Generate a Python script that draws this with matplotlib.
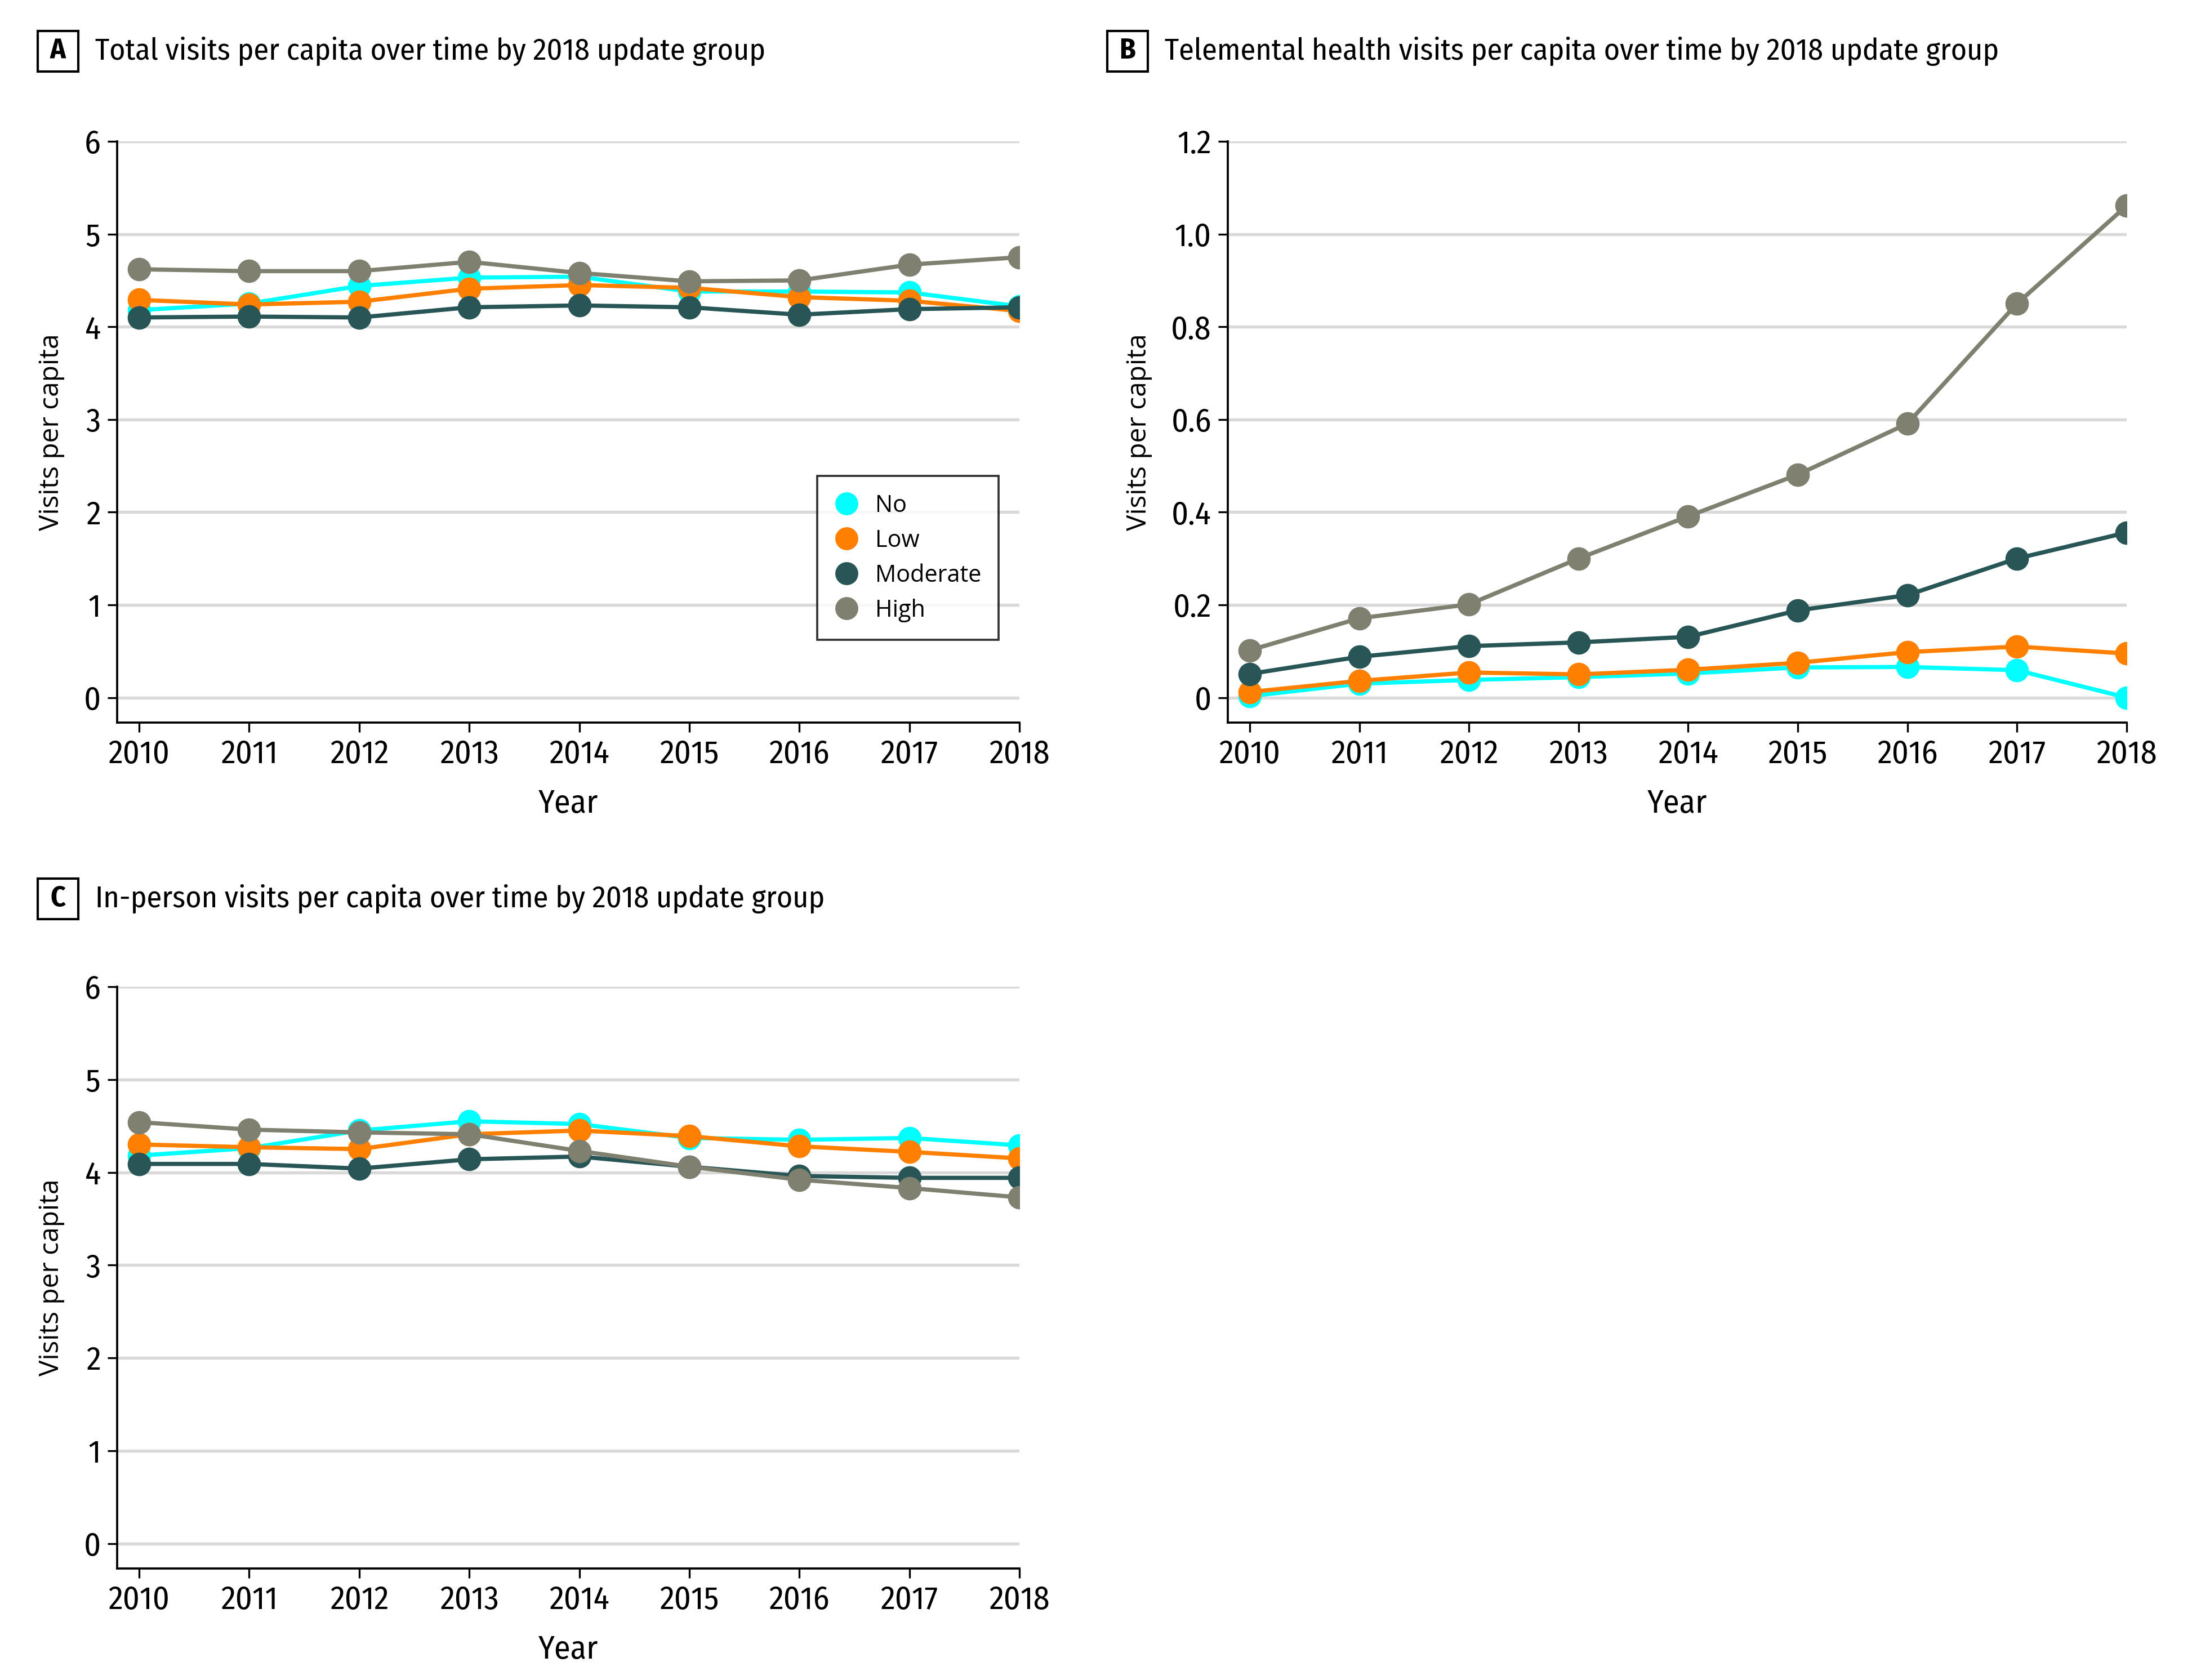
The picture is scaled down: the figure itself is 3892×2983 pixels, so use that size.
import matplotlib
matplotlib.use("Agg")
import matplotlib.pyplot as plt
from matplotlib import font_manager as fm
from matplotlib.lines import Line2D
from matplotlib.patches import Rectangle

years = [2010, 2011, 2012, 2013, 2014, 2015, 2016, 2017, 2018]
groups = ["No", "Low", "Moderate", "High"]
colors = ["#00FFFF", "#FF8000", "#285555", "#808070"]

total_no = [4.18, 4.25, 4.44, 4.53, 4.54, 4.38, 4.38, 4.37, 4.22]
total_low = [4.29, 4.24, 4.27, 4.41, 4.45, 4.42, 4.32, 4.28, 4.17]
total_mod = [4.10, 4.11, 4.10, 4.21, 4.23, 4.21, 4.13, 4.19, 4.21]
total_high = [4.62, 4.60, 4.60, 4.70, 4.58, 4.49, 4.50, 4.67, 4.75]

tele_no = [0.003, 0.030, 0.038, 0.044, 0.052, 0.065, 0.066, 0.059, 0.0]
tele_low = [0.012, 0.036, 0.054, 0.050, 0.060, 0.075, 0.098, 0.110, 0.095]
tele_mod = [0.051, 0.088, 0.111, 0.119, 0.131, 0.188, 0.221, 0.300, 0.356]
tele_high = [0.102, 0.171, 0.201, 0.300, 0.391, 0.481, 0.591, 0.850, 1.061]

inp_no = [4.18, 4.26, 4.45, 4.55, 4.52, 4.37, 4.35, 4.37, 4.29]
inp_low = [4.30, 4.27, 4.25, 4.41, 4.45, 4.39, 4.28, 4.22, 4.15]
inp_mod = [4.09, 4.09, 4.04, 4.14, 4.17, 4.06, 3.96, 3.94, 3.94]
inp_high = [4.54, 4.46, 4.43, 4.41, 4.23, 4.06, 3.92, 3.83, 3.73]

names = {f.name for f in fm.fontManager.ttflist}
pref = ["Fira Sans Condensed", "Roboto Condensed", "PT Sans Narrow", "Archivo Narrow",
        "Open Sans Condensed", "IBM Plex Sans Condensed", "Encode Sans Condensed",
        "Barlow Semi Condensed", "Liberation Sans Narrow", "Source Sans 3", "Lato"]
cond_name = next((n for n in pref if n in names), "DejaVu Sans")
wide_name = "Open Sans" if "Open Sans" in names else "DejaVu Sans"
COND = dict(family=[cond_name, "DejaVu Sans"])
WIDE = dict(family=[wide_name, "DejaVu Sans"])

W, H = 3892, 2983
DPI = 300
fig = plt.figure(figsize=(W / DPI, H / DPI), dpi=DPI)
renderer = fig.canvas.get_renderer()

def fit_size(text, target_px, base=12, **kw):
    t = fig.text(0, 0, text, fontsize=base, **kw)
    w = t.get_window_extent(renderer).width
    t.remove()
    return base * target_px / w

TICK = fit_size("2010", 109, **COND)
TITLE = fit_size("Total visits per capita over time by 2018 update group", 1191, **COND)
YLAB = fit_size("Visits per capita", 350, **WIDE)
LEG = fit_size("Moderate", 189, **WIDE)

def add_axes(l, t, r, b):
    return fig.add_axes([l / W, 1 - b / H, (r - l) / W, (b - t) / H])

def style(ax, ymax, yticks, yticklabels):
    ax.set_xlim(2009.8, 2018)
    ax.set_ylim(-0.045 * ymax, ymax)
    ax.spines["top"].set_visible(False)
    ax.spines["right"].set_visible(False)
    for s in ("left", "bottom"):
        ax.spines[s].set_linewidth(0.9)
    ax.set_yticks(yticks)
    ax.set_yticklabels(yticklabels, fontsize=TICK, **COND)
    ax.set_xticks(years)
    ax.set_xticklabels([str(y) for y in years], fontsize=TICK, **COND)
    ax.tick_params(length=4, width=0.8, pad=3)
    for y in yticks:
        ax.axhline(y, color="#d9d9d9", lw=1.3, zorder=0)
    ax.set_xlabel("Year", fontsize=TICK, labelpad=8, **COND)
    ax.set_ylabel("Visits per capita", fontsize=YLAB, labelpad=8, **WIDE)

def plot_series(ax, series):
    for vals, c, g in zip(series, colors, groups):
        ax.plot(years, vals, color=c, lw=1.8, marker="o", ms=9, label=g, zorder=3)

axA = add_axes(208, 251, 1810, 1283)
axB = add_axes(2180, 251, 3776, 1283)
axC = add_axes(208, 1752, 1810, 2785)

yt6 = [0, 1, 2, 3, 4, 5, 6]
style(axA, 6, yt6, [str(v) for v in yt6])
plot_series(axA, [total_no, total_low, total_mod, total_high])

ytB = [0, 0.2, 0.4, 0.6, 0.8, 1.0, 1.2]
style(axB, 1.2, ytB, ["0", "0.2", "0.4", "0.6", "0.8", "1.0", "1.2"])
plot_series(axB, [tele_no, tele_low, tele_mod, tele_high])

style(axC, 6, yt6, [str(v) for v in yt6])
plot_series(axC, [inp_no, inp_low, inp_mod, inp_high])

# legend row height measurement
fs_px = LEG * DPI / 72
t = fig.text(0, 0, "High", fontsize=LEG, **WIDE)
row_h = t.get_window_extent(renderer).height
t.remove()
pitch = 62.0
handles = [Line2D([], [], ls="none", marker="o", ms=8.8, color=c) for c in colors]
leg = axA.legend(handles, groups, loc="upper left", bbox_to_anchor=(0.776, 0.424),
                 borderaxespad=0, frameon=True, fancybox=False, edgecolor="black",
                 prop=dict(size=LEG, **WIDE), handletextpad=0.72,
                 labelspacing=(pitch - row_h) / fs_px,
                 borderpad=0.75, handlelength=1.0)
leg.get_frame().set_linewidth(0.9)

def panel_label(cx, cy, letter, title):
    s = 72
    fig.patches.append(Rectangle(((cx - s / 2) / W, 1 - (cy + s / 2) / H), s / W, s / H,
                                 transform=fig.transFigure, fc="white", ec="black", lw=1.0))
    fig.text(cx / W, 1 - cy / H, letter, fontsize=TITLE * 0.95, fontweight="bold",
             ha="center", va="center", **COND)
    fig.text((cx + 66) / W, 1 - cy / H, title, fontsize=TITLE, ha="left", va="center", **COND)

panel_label(103, 91, "A", "Total visits per capita over time by 2018 update group")
panel_label(2002, 91, "B", "Telemental health visits per capita over time by 2018 update group")
panel_label(103, 1596, "C", "In-person visits per capita over time by 2018 update group")

fig.savefig("out.png", dpi=DPI, facecolor="white")
